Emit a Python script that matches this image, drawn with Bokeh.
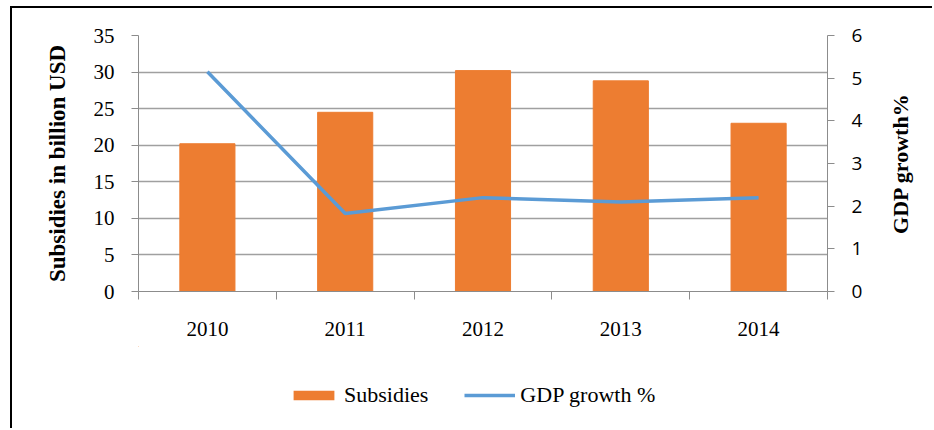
from bokeh.plotting import figure
from bokeh.layouts import column, row
from bokeh.models import Range1d, LinearAxis, FixedTicker, Legend, LegendItem, ColumnDataSource, Grid
from bokeh.embed import file_html
from bokeh.resources import INLINE

years = ["2010", "2011", "2012", "2013", "2014"]
subsidies = [20.2, 24.5, 30.2, 28.8, 23.0]
gdp_growth = [5.15, 1.83, 2.2, 2.1, 2.2]
left_ticks = [0, 5, 10, 15, 20, 25, 30, 35]
right_ticks = [0, 1, 2, 3, 4, 5, 6]

xpos = [i + 0.5 for i in range(len(years))]
src = ColumnDataSource(data=dict(x=xpos, year=years, subsidies=subsidies, gdp=gdp_growth))

SERIF = "Liberation Serif"
SANS = "Open Sans"
GRID = "#A0A0A0"
AXIS = "#8C8C8C"
ORANGE = "#ED7D31"
BLUE = "#5B9BD5"

p = figure(width=855, height=338, output_backend="svg", toolbar_location=None,
           x_range=Range1d(0, len(years)), y_range=Range1d(0, 35),
           min_border_left=126, min_border_right=40, min_border_top=27, min_border_bottom=55,
           x_axis_type=None, y_axis_type=None)
p.outline_line_color = None

# x axis with boundary ticks
xax = LinearAxis(ticker=FixedTicker(ticks=xpos, minor_ticks=list(range(len(years) + 1))))
xax.major_label_overrides = {xp: y for xp, y in zip(xpos, years)}
xax.major_tick_out = 0
xax.major_tick_in = 0
xax.minor_tick_out = 8
xax.minor_tick_in = 0
xax.minor_tick_line_color = AXIS
xax.axis_line_color = AXIS
xax.major_label_text_font = SERIF
xax.major_label_text_font_size = "21px"
xax.major_label_text_color = "#000000"
xax.major_label_standoff = 22
p.add_layout(xax, "below")

# left axis
yax = LinearAxis(ticker=FixedTicker(ticks=left_ticks, minor_ticks=[]), axis_label="Subsidies in billion USD")
yax.major_tick_out = 7
yax.major_tick_in = 0
yax.major_tick_line_color = AXIS
yax.axis_line_color = AXIS
yax.major_label_text_font = SERIF
yax.major_label_text_font_size = "21px"
yax.major_label_text_color = "#000000"
yax.major_label_standoff = 17
yax.axis_label_text_font = SERIF
yax.axis_label_text_font_style = "bold"
yax.axis_label_text_font_size = "23px"
yax.axis_label_text_color = "#000000"
yax.axis_label_standoff = 21
p.add_layout(yax, "left")

p.add_layout(Grid(dimension=1, ticker=yax.ticker, grid_line_color=GRID, grid_line_width=1.3))

# right axis (ticks and numbers)
p.extra_y_ranges = {"gdp": Range1d(0, 6)}
rax = LinearAxis(y_range_name="gdp", ticker=FixedTicker(ticks=right_ticks, minor_ticks=[]))
rax.major_tick_out = 7
rax.major_tick_in = 0
rax.major_tick_line_color = AXIS
rax.axis_line_color = AXIS
rax.major_label_text_font = SANS
rax.major_label_text_font_size = "19px"
rax.major_label_text_color = "#000000"
rax.major_label_standoff = 17
p.add_layout(rax, "right")

p.vbar(x="x", top="subsidies", width=0.4, source=src, fill_color=ORANGE, line_color=ORANGE)
p.line(x="x", y="gdp", source=src, y_range_name="gdp", line_width=3.5, line_color=BLUE)

# right-hand title strip: its left axis title reads bottom to top, centred on the frame
r = figure(width=65, height=338, output_backend="svg", toolbar_location=None,
           x_range=Range1d(0, 1), y_range=Range1d(0, 6),
           min_border_left=47, min_border_right=0, min_border_top=27, min_border_bottom=55,
           x_axis_type=None, y_axis_type=None)
r.outline_line_color = None
tax = LinearAxis(ticker=FixedTicker(ticks=[], minor_ticks=[]), axis_label="GDP growth%")
tax.axis_line_color = None
tax.major_tick_line_color = None
tax.minor_tick_line_color = None
tax.axis_label_text_font = SERIF
tax.axis_label_text_font_style = "bold"
tax.axis_label_text_font_size = "22px"
tax.axis_label_text_color = "#000000"
tax.axis_label_standoff = 2
r.add_layout(tax, "left")

# legend strip (its glyphs use the same data, kept outside its visible ranges)
q = figure(width=920, height=82, output_backend="svg", toolbar_location=None,
           x_range=Range1d(100, 101), y_range=Range1d(-100, -99),
           min_border_left=126, min_border_right=105, min_border_top=0, min_border_bottom=0,
           x_axis_type=None, y_axis_type=None)
q.outline_line_color = None
lb = q.vbar(x="x", top="subsidies", width=0.4, source=src, fill_color=ORANGE, line_color=None)
ll = q.line(x="x", y="gdp", source=src, line_width=3.5, line_color=BLUE)

legend = Legend(items=[LegendItem(label="Subsidies", renderers=[lb]),
                       LegendItem(label="GDP growth %", renderers=[ll])],
                orientation="horizontal", location=(150, 20))
legend.glyph_width = 51
legend.glyph_height = 12
legend.label_standoff = 5
legend.spacing = 36
legend.padding = 0
legend.margin = 0
legend.border_line_color = None
legend.background_fill_alpha = 0
legend.label_text_font = SERIF
legend.label_text_font_size = "22px"
legend.label_text_color = "#000000"
q.add_layout(legend)

lay = column(row(p, r, spacing=0), q, spacing=0)
lay.styles = {"margin-left": "10px", "margin-top": "6px",
              "border-left": "2px solid black", "border-top": "2px solid black"}

open("out.html", "w").write(file_html(lay, INLINE))
